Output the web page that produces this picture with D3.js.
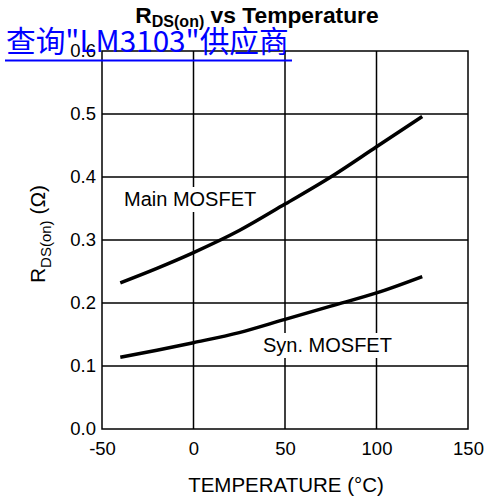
<!DOCTYPE html>
<html><head><meta charset="utf-8">
<script src="https://cdn.jsdelivr.net/npm/d3@7"></script>
<style>body{margin:0;background:#fff}svg{display:block}</style>
</head><body>
<svg id="c" width="487" height="503"></svg>
<script>
const temps = [-40, -20, 0, 25, 50, 75, 100, 125];
const mainMosfet = [0.232, 0.255, 0.280, 0.315, 0.357, 0.400, 0.448, 0.496];
const synMosfet = [0.114, 0.125, 0.137, 0.153, 0.174, 0.195, 0.216, 0.242];
const xTicks = [-50, 0, 50, 100, 150];
const yTicks = [0.0, 0.1, 0.2, 0.3, 0.4, 0.5, 0.6];

const svg = d3.select("#c");
const font = "'Liberation Sans', Arial, Helvetica, sans-serif";
const x = d3.scaleLinear().domain([-50, 150]).range([102, 468]);
const y = d3.scaleLinear().domain([0, 0.6]).range([429, 51]);

// grid
const g = svg.append("g");
g.selectAll("line.v").data(xTicks.slice(1, -1)).enter().append("line")
  .attr("x1", d => x(d)).attr("x2", d => x(d)).attr("y1", y(0.6)).attr("y2", y(0))
  .attr("stroke", "#000").attr("stroke-width", 1.5);
g.selectAll("line.h").data(yTicks.slice(1, -1)).enter().append("line")
  .attr("x1", x(-50)).attr("x2", x(150)).attr("y1", d => y(d)).attr("y2", d => y(d))
  .attr("stroke", "#000").attr("stroke-width", 1.5);
g.append("rect").attr("x", x(-50)).attr("y", y(0.6)).attr("width", x(150) - x(-50)).attr("height", y(0) - y(0.6))
  .attr("fill", "none").attr("stroke", "#000").attr("stroke-width", 1.5);

// axes tick labels
const xAxis = d3.axisBottom(x).tickValues(xTicks).tickSize(0).tickPadding(13).tickFormat(d => String(d));
const xa = svg.append("g").attr("transform", `translate(0,${y(0)})`).call(xAxis);
xa.select(".domain").remove();
xa.selectAll("text").attr("font-family", font).attr("font-size", 18.5).attr("fill", "#000");
const yAxis = d3.axisLeft(y).tickValues(yTicks).tickSize(0).tickPadding(6).tickFormat(d3.format(".1f"));
const ya = svg.append("g").attr("transform", `translate(${x(-50)},0)`).call(yAxis);
ya.select(".domain").remove();
ya.selectAll("text").attr("font-family", font).attr("font-size", 18.5).attr("fill", "#000");

// labels with white background
function label(txt, lx, ly) {
  const t = svg.append("text").attr("x", lx).attr("y", ly).attr("font-family", font)
    .attr("font-size", 20).attr("fill", "#000").text(txt);
  const b = t.node().getBBox();
  svg.insert("rect", () => t.node()).attr("x", b.x - 3).attr("y", b.y - 1)
    .attr("width", b.width + 6).attr("height", b.height + 3).attr("fill", "#fff");
}
label("Main MOSFET", 124, 206);
label("Syn. MOSFET", 263, 352);

// curves
const line = d3.line().x((d, i) => x(temps[i])).y(d => y(d)).curve(d3.curveMonotoneX);
[mainMosfet, synMosfet].forEach(s => {
  svg.append("path").attr("d", line(s)).attr("fill", "none").attr("stroke", "#000")
    .attr("stroke-width", 3.5).attr("stroke-linecap", "butt");
});

// title
const title = svg.append("text").attr("x", 257).attr("y", 23).attr("text-anchor", "middle")
  .attr("font-family", font).attr("font-weight", "bold").attr("font-size", 22.8).attr("fill", "#000");
title.append("tspan").text("R");
title.append("tspan").attr("font-size", 16).attr("dy", 4).text("DS(on)");
title.append("tspan").attr("dy", -4).text(" vs Temperature");

// y label
const yl = svg.append("text").attr("transform", "translate(45,234) rotate(-90)").attr("text-anchor", "middle")
  .attr("font-family", font).attr("font-size", 21).attr("fill", "#000");
yl.append("tspan").text("R");
yl.append("tspan").attr("font-size", 15).attr("dy", 6).text("DS(on)");
yl.append("tspan").attr("dy", -6).text(" (Ω)");

// x label
svg.append("text").attr("x", 286).attr("y", 492).attr("text-anchor", "middle")
  .attr("font-family", font).attr("font-size", 20.5).attr("fill", "#000").text("TEMPERATURE (°C)");

// blue link overlay
svg.append("text").attr("x", 6).attr("y", 52).attr("font-family", "'Noto Sans CJK SC', sans-serif")
  .attr("font-size", 29.7).attr("fill", "#0000ff").text('查询"LM3103"供应商');
svg.append("line").attr("x1", 5).attr("x2", 292).attr("y1", 60.5).attr("y2", 60.5)
  .attr("stroke", "#0000ff").attr("stroke-width", 2);
</script>
</body></html>
